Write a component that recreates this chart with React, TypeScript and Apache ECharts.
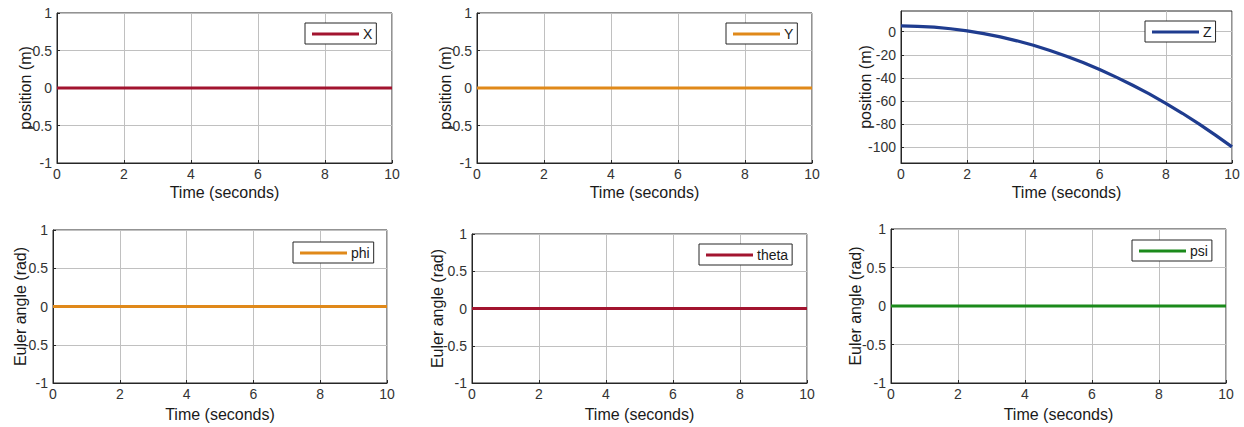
import React, { useEffect, useRef } from "react";
import * as echarts from "echarts";

// ---- data ----
const flatTime = [0, 10];
const xPos = [0, 0];
const yPos = [0, 0];
const phiAng = [0, 0];
const thetaAng = [0, 0];
const psiAng = [0, 0];

const zTime = [0, 0.5, 1, 1.5, 2, 2.5, 3, 3.5, 4, 4.5, 5, 5.5, 6, 6.5, 7, 7.5, 8, 8.5, 9, 9.5, 10];
const zPos = [5, 4.7, 4, 2.6, 0.8, -1.6, -4.5, -7.9, -11.8, -16.3, -21.3, -26.8, -32.8, -39.4, -46.5, -54, -62.2, -70.8, -80, -89.8, -100];

const xTicks = [0, 2, 4, 6, 8, 10];
const unitTicks = [-1, -0.5, 0, 0.5, 1];
const zTicks = [-100, -80, -60, -40, -20, 0];

const FONT = "Liberation Sans, Arial, Helvetica, sans-serif";
const AXIS_DARK = "#262626";
const GRID_GRAY = "#c0c0c0";

type Panel = {
  name: string;
  color: string;
  time: number[];
  values: number[];
  yName: string;
  grid: { left: number; top: number; width: number; height: number };
  legend: { left: number; top: number };
  yMin: number;
  yMax: number;
  yTicks: number[];
  yGap: number;
  xGap: number;
};

const panels: Panel[] = [
  { name: "X", color: "#A2142F", time: flatTime, values: xPos, yName: "position (m)", grid: { left: 57, top: 13, width: 335, height: 150 }, legend: { left: 305, top: 23 }, yMin: -1, yMax: 1, yTicks: unitTicks, yGap: 24, xGap: 21 },
  { name: "Y", color: "#E0891A", time: flatTime, values: yPos, yName: "position (m)", grid: { left: 477, top: 13, width: 335, height: 150 }, legend: { left: 726, top: 23 }, yMin: -1, yMax: 1, yTicks: unitTicks, yGap: 24, xGap: 21 },
  { name: "Z", color: "#1F3C8F", time: zTime, values: zPos, yName: "position (m)", grid: { left: 901, top: 11, width: 331, height: 152 }, legend: { left: 1145, top: 21 }, yMin: -114, yMax: 18, yTicks: zTicks, yGap: 28, xGap: 21 },
  { name: "phi", color: "#E0891A", time: flatTime, values: phiAng, yName: "Euler angle (rad)", grid: { left: 53, top: 230, width: 334, height: 153 }, legend: { left: 293, top: 242 }, yMin: -1, yMax: 1, yTicks: unitTicks, yGap: 25, xGap: 23 },
  { name: "theta", color: "#A2142F", time: flatTime, values: thetaAng, yName: "Euler angle (rad)", grid: { left: 472, top: 234, width: 335, height: 149 }, legend: { left: 699, top: 244 }, yMin: -1, yMax: 1, yTicks: unitTicks, yGap: 27, xGap: 23 },
  { name: "psi", color: "#1B8A1B", time: flatTime, values: psiAng, yName: "Euler angle (rad)", grid: { left: 891, top: 229, width: 335, height: 154 }, legend: { left: 1132, top: 240 }, yMin: -1, yMax: 1, yTicks: unitTicks, yGap: 28, xGap: 23 },
];

export default function App() {
  const ref = useRef<HTMLDivElement>(null);
  useEffect(() => {
    if (!ref.current) return;
    const chart = echarts.init(ref.current, undefined, { renderer: "svg" });
    const option: any = {
      animation: false,
      backgroundColor: "#ffffff",
      textStyle: { fontFamily: FONT },
      grid: panels.map((p) => ({
        ...p.grid,
        show: true,
        borderColor: AXIS_DARK,
        borderWidth: 1,
        backgroundColor: "#ffffff",
        containLabel: false,
      })),
      xAxis: panels.map((p, i) => ({
        type: "value",
        gridIndex: i,
        min: 0,
        max: 10,
        interval: 2,
        name: "Time (seconds)",
        nameLocation: "middle",
        nameGap: p.xGap,
        nameMoveOverlap: false,
        nameTextStyle: { fontSize: 16, color: "#1a1a1a", fontFamily: FONT },
        axisLine: { show: true, onZero: false, lineStyle: { color: AXIS_DARK, width: 1 } },
        axisTick: { show: true, inside: true, length: 3, lineStyle: { color: AXIS_DARK } },
        axisLabel: { fontSize: 14, color: "#333333", margin: 4, fontFamily: FONT, customValues: xTicks },
        splitLine: { show: true, lineStyle: { color: GRID_GRAY, width: 1 } },
      })),
      yAxis: panels.map((p, i) => ({
        type: "value",
        gridIndex: i,
        min: p.yMin,
        max: p.yMax,
        name: p.yName,
        nameLocation: "middle",
        nameGap: p.yGap,
        nameMoveOverlap: false,
        nameRotate: 90,
        nameTextStyle: { fontSize: 16, color: "#1a1a1a", fontFamily: FONT },
        axisLine: { show: true, onZero: false, lineStyle: { color: AXIS_DARK, width: 1 } },
        axisTick: { show: true, inside: true, length: 3, lineStyle: { color: AXIS_DARK }, customValues: p.yTicks },
        axisLabel: { fontSize: 14, color: "#333333", margin: 5, fontFamily: FONT, customValues: p.yTicks },
        splitLine: { show: true, lineStyle: { color: GRID_GRAY, width: 1 } },
      })),
      legend: panels.map((p) => ({
        data: [p.name],
        left: p.legend.left,
        top: p.legend.top,
        orient: "horizontal",
        icon: "rect",
        itemWidth: 47,
        itemHeight: 3,
        itemGap: 0,
        padding: [4, 4, 3, 7],
        backgroundColor: "#ffffff",
        borderColor: AXIS_DARK,
        borderWidth: 1,
        borderRadius: 0,
        selectedMode: false,
        textStyle: { fontSize: 14, color: "#1a1a1a", fontFamily: FONT, padding: [0, 0, 0, -1], lineHeight: 14 },
      })),
      series: panels.map((p, i) => ({
        type: "line",
        name: p.name,
        xAxisIndex: i,
        yAxisIndex: i,
        data: p.time.map((t, j) => [t, p.values[j]]),
        showSymbol: false,
        symbol: "none",
        smooth: false,
        clip: false,
        color: p.color,
        lineStyle: { color: p.color, width: 3.2 },
      })),
    };
    chart.setOption(option);
    return () => chart.dispose();
  }, []);
  return (
    <div
      ref={ref}
      style={{ position: "absolute", left: 0, top: 0, width: 1244, height: 427 }}
    />
  );
}
